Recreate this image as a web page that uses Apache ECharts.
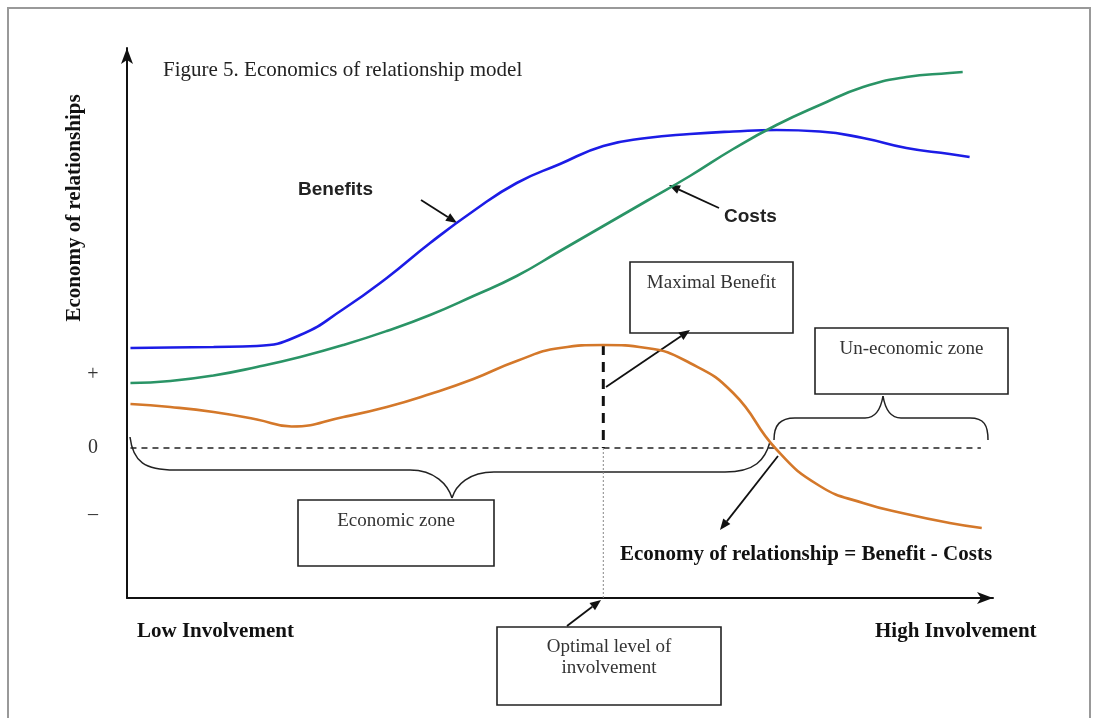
<!DOCTYPE html>
<html>
<head>
<meta charset="utf-8">
<title>Economics of relationship model</title>
<script src="https://cdn.jsdelivr.net/npm/echarts@6/dist/echarts.min.js"></script>
<style>
  html, body { margin: 0; padding: 0; background: #fff; }
  #chart { width: 1099px; height: 718px; }
</style>
</head>
<body>
<div id="chart"></div>
<script>
// x = level of involvement (0..100), y = economy (0 is the break-even line)
const benefits = [
  [0.4, 10.0], [5, 10.05], [10, 10.1], [15, 10.2], [20, 11.3], [25, 13.9], [30, 17.0],
  [35, 20.5], [40, 23.7], [45, 26.5], [50, 28.4], [55, 30.2], [60, 31.0], [65, 31.4],
  [70, 31.65], [75, 31.8], [80, 31.65], [85, 31.0], [90, 30.0], [95, 29.4], [97.3, 29.1]
]
const costs = [
  [0.4, 6.5], [5, 6.7], [10, 7.25], [15, 8.1], [20, 9.1], [25, 10.3], [30, 11.7],
  [35, 13.3], [40, 15.2], [45, 17.2], [50, 19.7], [55, 22.2], [60, 24.7], [65, 27.2],
  [70, 29.9], [75, 32.3], [80, 34.3], [85, 36.1], [90, 37.1], [95, 37.5], [96.5, 37.6]
]
const economy = [
  [0.4, 4.4], [5, 4.1], [10, 3.6], [15, 2.85], [19, 2.15], [25, 3.1], [30, 4.1],
  [35, 5.4], [40, 6.9], [45, 8.7], [50, 10.0], [55, 10.3], [60, 10.0], [65, 8.5],
  [70, 5.5], [75, -0.15], [80, -3.8], [85, -5.5], [90, -6.6], [95, -7.5], [98.7, -8.0]
]
const zeroLine = [[0.4, 0], [98.6, 0]]
const optimumX = 55.0
const optimumPeak = 10.3
const tickLabels = ['+', '0', '\u2013']
const tickValues = [7.3, 0, -6.7]

const SERIF = '"Liberation Serif", "DejaVu Serif", serif'
const SANS = '"Liberation Sans", Arial, sans-serif'
const INK = '#111'

const chart = echarts.init(document.getElementById('chart'))

// arrow: line + filled head
const arrow = (x1, y1, x2, y2) => {
  const a = Math.atan2(y2 - y1, x2 - x1)
  const len = 11
  const w = 4.5
  const bx = x2 - len * Math.cos(a)
  const by = y2 - len * Math.sin(a)
  const nx = -Math.sin(a) * w
  const ny = Math.cos(a) * w
  return [
    { type: 'line', shape: { x1, y1, x2: bx, y2: by }, style: { stroke: INK, lineWidth: 1.8 } },
    {
      type: 'polygon',
      shape: { points: [[x2, y2], [bx + nx, by + ny], [bx - nx, by - ny]] },
      style: { fill: INK },
    },
  ]
}

// cubic piece of a brace
const curve = (x1, y1, cpx1, cpy1, cpx2, cpy2, x2, y2) => ({
  type: 'bezierCurve',
  shape: { x1, y1, cpx1, cpy1, cpx2, cpy2, x2, y2 },
  style: { fill: null, stroke: '#222', lineWidth: 1.5 },
})
const seg = (x1, y1, x2, y2) => ({
  type: 'line',
  shape: { x1, y1, x2, y2 },
  style: { stroke: '#222', lineWidth: 1.5 },
})

// text box
const box = (x, y, w, h, lines, textY) => {
  const items = [
    { type: 'rect', shape: { x, y, width: w, height: h }, style: { fill: '#fff', stroke: '#222', lineWidth: 1.6 } },
  ]
  lines.forEach((t, i) => {
    items.push({
      type: 'text',
      x: x + w / 2,
      y: textY + i * 21,
      style: { text: t, font: '19px ' + SERIF, fill: '#333', align: 'center', verticalAlign: 'middle' },
    })
  })
  return items
}

const label = (x, y, t, font, extra) => ({
  type: 'text',
  x,
  y,
  style: Object.assign({ text: t, font, fill: INK, verticalAlign: 'middle' }, extra || {}),
})

const lineSeries = (name, data, color) => ({
  name,
  type: 'line',
  data,
  smooth: 0.5,
  showSymbol: false,
  lineStyle: { color, width: 2.6 },
  z: 3,
})

const axisStyle = {
  show: true,
  onZero: false,
  symbol: ['none', 'arrow'],
  symbolSize: [9, 16],
  lineStyle: { color: INK, width: 2 },
}

chart.setOption({
  backgroundColor: '#fff',
  animation: false,
  grid: { left: 127, right: 106, top: 48, bottom: 120 },
  xAxis: {
    type: 'value',
    min: 0,
    max: 100,
    axisLine: axisStyle,
    axisTick: { show: false },
    axisLabel: { show: false },
    splitLine: { show: false },
  },
  yAxis: {
    type: 'value',
    min: -15,
    max: 40,
    axisLine: axisStyle,
    axisTick: { show: false },
    axisLabel: { show: false },
    splitLine: { show: false },
  },
  series: [
    lineSeries('Benefits', benefits, '#1c1ce6'),
    lineSeries('Costs', costs, '#2a9466'),
    lineSeries('Economy of relationship', economy, '#d4782a'),
    {
      name: 'zero',
      type: 'line',
      data: zeroLine,
      showSymbol: false,
      lineStyle: { color: '#222', width: 1.5, type: [6, 5] },
      z: 2,
    },
    {
      name: 'maximum',
      type: 'line',
      data: [[optimumX, optimumPeak], [optimumX, 0]],
      showSymbol: false,
      lineStyle: { color: INK, width: 3, type: [10, 7] },
      z: 2,
    },
    {
      name: 'optimum',
      type: 'line',
      data: [[optimumX, 0], [optimumX, -15]],
      showSymbol: false,
      lineStyle: { color: '#888', width: 1, type: [2, 2] },
      z: 2,
    },
  ],
})

// tick labels placed through the y scale
const ticks = tickLabels.map((t, i) => {
  const p = chart.convertToPixel({ gridIndex: 0 }, [0, tickValues[i]])
  return label(93, p[1], t, '20px ' + SERIF, { fill: '#333', align: 'center' })
})

const elements = [
  { type: 'rect', shape: { x: 8, y: 8, width: 1082, height: 740 }, style: { fill: null, stroke: '#999', lineWidth: 2 } },
  label(163, 70, 'Figure 5. Economics of relationship model', '21px ' + SERIF, { fill: '#222' }),
  {
    type: 'text',
    x: 75,
    y: 208,
    rotation: Math.PI / 2,
    style: { text: 'Economy of relationships', font: 'bold 21px ' + SERIF, fill: INK, align: 'center', verticalAlign: 'middle' },
  },
  label(137, 632, 'Low Involvement', 'bold 21px ' + SERIF),
  label(875, 632, 'High Involvement', 'bold 21px ' + SERIF),
  label(620, 555, 'Economy of relationship = Benefit - Costs', 'bold 21px ' + SERIF),
  label(298, 190, 'Benefits', 'bold 19px ' + SANS, { fill: '#222' }),
  label(724, 217, 'Costs', 'bold 19px ' + SANS, { fill: '#222' }),
  // economic zone brace (opens upward, points down)
  curve(130, 437, 133, 462, 145, 470, 175, 470),
  seg(175, 470, 410, 470),
  curve(410, 470, 435, 470, 448, 485, 452, 498),
  curve(452, 498, 456, 485, 469, 472, 494, 472),
  seg(494, 472, 725, 472),
  curve(725, 472, 755, 472, 765, 460, 770, 442),
  // un-economic zone brace (opens downward, points up)
  curve(774, 440, 774, 425, 780, 418, 795, 418),
  seg(795, 418, 865, 418),
  curve(865, 418, 876, 418, 881, 408, 883, 396),
  curve(883, 396, 885, 408, 890, 418, 901, 418),
  seg(901, 418, 970, 418),
  curve(970, 418, 984, 418, 988, 425, 988, 440),
  ...box(630, 262, 163, 71, ['Maximal Benefit'], 283),
  ...box(815, 328, 193, 66, ['Un-economic zone'], 349),
  ...box(298, 500, 196, 66, ['Economic zone'], 521),
  ...box(497, 627, 224, 78, ['Optimal level of', 'involvement'], 647),
  ...arrow(421, 200, 457, 223),
  ...arrow(719, 208, 669, 185),
  ...arrow(606, 387, 690, 330),
  ...arrow(567, 626, 601, 600),
  ...arrow(778, 456, 720, 530),
  ...ticks,
]

chart.setOption({ graphic: { elements } })
</script>
</body>
</html>
